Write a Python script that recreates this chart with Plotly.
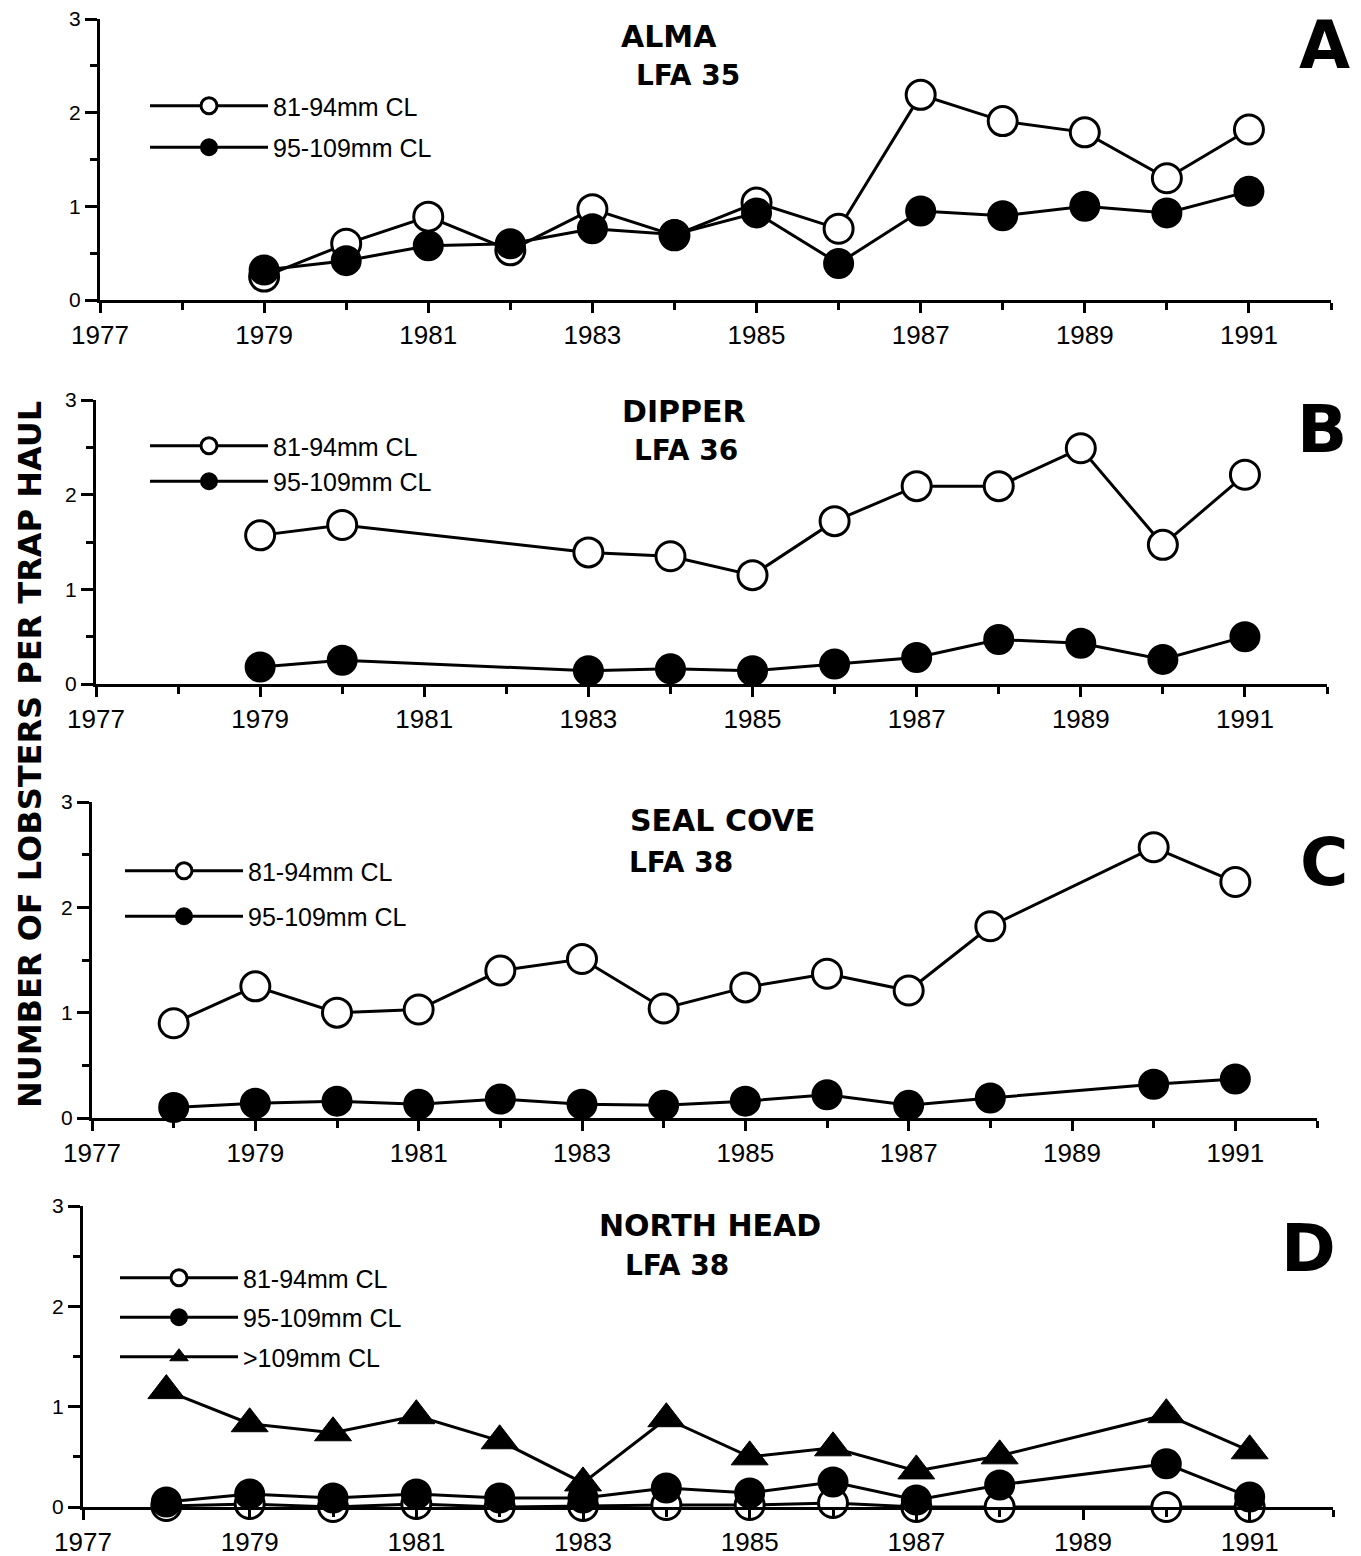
import plotly.graph_objects as go

# page body has an 8px margin: offset every pixel position by it
OFF = 8
W, H = 1361 - OFF, 1556 - OFF

# ---------------- data ----------------
years_A = [1979, 1980, 1981, 1982, 1983, 1984, 1985, 1986, 1987, 1988, 1989, 1990, 1991]
alma_small = [0.25, 0.60, 0.89, 0.53, 0.97, 0.69, 1.04, 0.76, 2.19, 1.91, 1.79, 1.30, 1.82]
alma_large = [0.32, 0.42, 0.58, 0.60, 0.76, 0.70, 0.93, 0.39, 0.95, 0.90, 1.00, 0.93, 1.16]

years_B = [1979, 1980, 1983, 1984, 1985, 1986, 1987, 1988, 1989, 1990, 1991]
dipper_small = [1.57, 1.68, 1.39, 1.35, 1.15, 1.72, 2.09, 2.09, 2.49, 1.47, 2.21]
dipper_large = [0.18, 0.25, 0.14, 0.16, 0.14, 0.21, 0.28, 0.47, 0.43, 0.26, 0.50]

years_C = [1978, 1979, 1980, 1981, 1982, 1983, 1984, 1985, 1986, 1987, 1988, 1990, 1991]
seal_small = [0.90, 1.25, 1.00, 1.03, 1.40, 1.51, 1.04, 1.24, 1.37, 1.21, 1.82, 2.57, 2.24]
seal_large = [0.10, 0.14, 0.16, 0.13, 0.18, 0.13, 0.12, 0.16, 0.22, 0.12, 0.19, 0.32, 0.37]

years_D = [1978, 1979, 1980, 1981, 1982, 1983, 1984, 1985, 1986, 1987, 1988, 1990, 1991]
north_small = [0.01, 0.03, 0.00, 0.03, 0.00, 0.01, 0.02, 0.02, 0.04, 0.00, 0.00, 0.00, 0.00]
north_large = [0.05, 0.13, 0.09, 0.13, 0.09, 0.09, 0.19, 0.14, 0.25, 0.07, 0.22, 0.43, 0.10]
north_xlarge = [1.16, 0.83, 0.74, 0.91, 0.66, 0.24, 0.88, 0.50, 0.59, 0.36, 0.51, 0.92, 0.56]

size_labels = ["81-94mm CL", "95-109mm CL", ">109mm CL"]
panel_titles = ["ALMA", "DIPPER", "SEAL COVE", "NORTH HEAD"]
panel_lfa = ["LFA 35", "LFA 36", "LFA 38", "LFA 38"]
panel_letters = ["A", "B", "C", "D"]
y_title = "NUMBER OF LOBSTERS PER TRAP HAUL"

# ---------------- layout geometry (window pixels) ----------------
# (x_left, x_right, y_top, y_bottom) for each panel's plot area
panels_px = [
    (100, 1331, 19, 300),
    (96, 1327, 400, 684),
    (92, 1317, 802, 1118),
    (83, 1333, 1206, 1507),
]

FONT = "DejaVu Sans, Verdana, sans-serif"
FONT2 = "Liberation Sans, Arial, Helvetica, sans-serif"


def px_x(x):
    return (x - OFF) / W


def px_y(y):
    return 1 - (y - OFF) / H


fig = go.Figure()

open_marker = dict(symbol="circle", size=29, color="white", line=dict(color="black", width=3))
fill_marker = dict(symbol="circle", size=29, color="black", line=dict(color="black", width=2))
tri_marker = dict(symbol="triangle-up", size=32, color="black", line=dict(color="black", width=1))
line_style = dict(color="black", width=3)

series = [
    (years_A, [(alma_small, open_marker, 0), (alma_large, fill_marker, 1)]),
    (years_B, [(dipper_small, open_marker, 0), (dipper_large, fill_marker, 1)]),
    (years_C, [(seal_small, open_marker, 0), (seal_large, fill_marker, 1)]),
    (years_D, [(north_xlarge, tri_marker, 2), (north_small, open_marker, 0), (north_large, fill_marker, 1)]),
]

for i, (yrs, trs) in enumerate(series):
    ax = "" if i == 0 else str(i + 1)
    for vals, mk, li in trs:
        fig.add_trace(go.Scatter(
            x=yrs, y=vals, mode="lines+markers",
            name=size_labels[li],
            line=line_style, marker=mk,
            xaxis="x" + ax, yaxis="y" + ax,
            cliponaxis=False,
            legend="legend" + ax,
            legendgroup=f"p{i}_{li}",
            legendrank=li,
            showlegend=True,
        ))

# legend positions (window pixels: left, top) and gaps
legend_pos = [(145, 83, 6), (145, 423, 0), (120, 848, 10), (115, 1255, 4)]

layout = dict(
    width=W, height=H,
    paper_bgcolor="white", plot_bgcolor="white",
    margin=dict(l=0, r=0, t=0, b=0, autoexpand=False),
    showlegend=True,
    font=dict(family=FONT2, color="black"),
)

for i, (xl, xr, yt, yb) in enumerate(panels_px):
    ax = "" if i == 0 else str(i + 1)
    layout["xaxis" + ax] = dict(
        domain=[px_x(xl), px_x(xr)], range=[1977, 1992],
        anchor="y" + ax, automargin=False,
        showgrid=False, zeroline=False,
        showline=True, linecolor="black", linewidth=3,
        ticks="outside", ticklen=10, tickwidth=3, tickcolor="black",
        tick0=1977, dtick=2,
        minor=dict(dtick=1, ticks="outside", ticklen=7, tickwidth=3, tickcolor="black"),
        tickfont=dict(family=FONT2, size=26, color="black"),
        ticklabeloverflow="allow",
        fixedrange=True,
    )
    layout["yaxis" + ax] = dict(
        domain=[px_y(yb), px_y(yt)], range=[0, 3],
        anchor="x" + ax, automargin=False,
        showgrid=False, zeroline=False,
        showline=True, linecolor="black", linewidth=3,
        ticks="outside", ticklen=12, tickwidth=3, tickcolor="black",
        tick0=0, dtick=1,
        minor=dict(dtick=0.5, ticks="outside", ticklen=7, tickwidth=3, tickcolor="black"),
        tickfont=dict(family=FONT2, size=21, color="black"),
        ticklabeloverflow="allow",
        fixedrange=True,
    )
    lx, ly, gap = legend_pos[i]
    layout["legend" + ax] = dict(
        x=px_x(lx), y=px_y(ly), xanchor="left", yanchor="top",
        bgcolor="rgba(0,0,0,0)",
        font=dict(family=FONT2, size=25, color="black"),
        traceorder="grouped",
        tracegroupgap=gap,
        itemwidth=118,
        itemsizing="trace",
    )

fig.update_layout(**layout)

# titles (window pixel centres)
title_pos = [((669, 37), (688, 75)), ((684, 412), (686, 450)), ((722, 820), (681, 862)), ((710, 1225), (677, 1265))]
letter_pos = [(1324, 46), (1322, 430), (1324, 862), (1308, 1248)]


def add_text(x, y, text, size, angle=0):
    fig.add_annotation(x=px_x(x), y=px_y(y), xref="paper", yref="paper",
                       xanchor="center", yanchor="middle",
                       text=text, showarrow=False, textangle=angle,
                       font=dict(family=FONT, size=size, color="black"))


for i in range(4):
    (tx, ty), (lx, ly) = title_pos[i]
    add_text(tx, ty, f"<b>{panel_titles[i]}</b>", 30)
    add_text(lx, ly, f"<b>{panel_lfa[i]}</b>", 28)
    ax_, ay_ = letter_pos[i]
    add_text(ax_, ay_, f"<b>{panel_letters[i]}</b>", 66)

add_text(30, 755, f"<b>{y_title}</b>", 32, angle=-90)

fig.write_html("out.html")
